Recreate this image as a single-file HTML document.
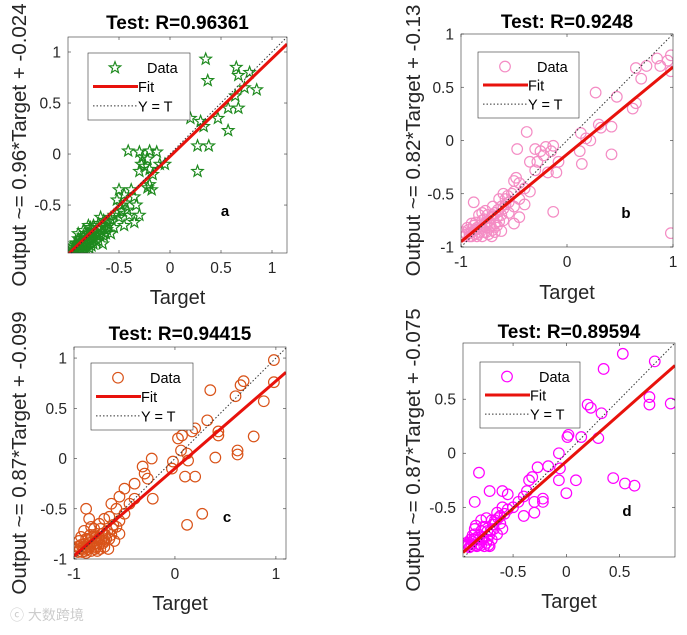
<!DOCTYPE html>
<html><head><meta charset="utf-8"><style>
body{margin:0;background:#fff;width:687px;height:630px;overflow:hidden;font-family:"Liberation Sans",Arial,sans-serif}
svg text{font-family:"Liberation Sans",Arial,sans-serif}
</style></head><body>
<svg id="fig" width="687" height="630" viewBox="0 0 687 630">
<text x="10" y="620" font-size="14" fill="#ccc" font-family="'Liberation Sans','Noto Sans CJK SC',sans-serif">ⓒ 大数跨境</text>
</svg>
<script>
// ---- data ----
const titles=["Test: R=0.96361","Test: R=0.9248","Test: R=0.94415","Test: R=0.89594"];
const ylabels=["Output ~= 0.96*Target + -0.024","Output ~= 0.82*Target + -0.13","Output ~= 0.87*Target + -0.099","Output ~= 0.87*Target + -0.075"];
const panelLetters=["a","b","c","d"];
const fitSlope=[0.96,0.82,0.87,0.87];
const fitIntercept=[-0.024,-0.13,-0.099,-0.075];
const xTicksA=[-0.5,0,0.5,1], yTicksA=[-0.5,0,0.5,1];
const xTicksB=[-1,0,1], yTicksB=[-1,-0.5,0,0.5,1];
const xTicksC=[-1,0,1], yTicksC=[-1,-0.5,0,0.5,1];
const xTicksD=[-0.5,0,0.5], yTicksD=[-0.5,0,0.5];
const dataA=[[0.35,0.93],[0.37,0.72],[0.65,0.85],[0.67,0.77],[0.78,0.8],[0.73,0.65],[0.85,0.63],[0.64,0.57],[0.57,0.45],[0.67,0.45],[0.47,0.35],[0.3,0.32],[0.33,0.27],[0.57,0.23],[0.2,0.35],[0.27,0.08],[0.38,0.08],[0.27,-0.17],
[-0.41,0.03],[-0.3,0.02],[-0.2,0.03],[-0.13,0.02],[-0.27,-0.03],[-0.22,-0.05],[-0.28,-0.1],[-0.25,-0.12],[-0.2,-0.15],[-0.3,-0.17],[-0.05,-0.1],[-0.1,-0.1],[-0.17,-0.2],[-0.2,-0.3],[-0.18,-0.35],[-0.22,-0.33],
[-0.5,-0.35],[-0.45,-0.4],[-0.38,-0.35],[-0.35,-0.42],[-0.48,-0.5],[-0.42,-0.55],[-0.33,-0.5],[-0.3,-0.6],[-0.35,-0.67],[-0.5,-0.62],[-0.45,-0.7],[-0.55,-0.72],[-0.52,-0.58],[-0.4,-0.6],[-0.6,-0.7],[-0.65,-0.65],[-0.58,-0.78],[-0.7,-0.73],[-0.68,-0.62],[-0.75,-0.7],[-0.72,-0.8],[-0.78,-0.75],[-0.8,-0.82],[-0.85,-0.8],[-0.83,-0.88],[-0.88,-0.85],[-0.9,-0.9],[-0.93,-0.95],[-0.95,-0.92],[-0.87,-0.93],[-0.82,-0.9],[-0.78,-0.85],[-0.75,-0.88],[-0.9,-0.83],[-0.85,-0.75],[-0.7,-0.85],[-0.65,-0.8],[-0.8,-0.7],[-0.92,-0.87],[-0.88,-0.95],[-0.84,-0.84],[-0.76,-0.79],[-0.73,-0.76],[-0.62,-0.74],[-0.66,-0.88],[-0.9,-0.78],[-0.95,-0.96],[-0.86,-0.9],[-0.81,-0.78],[-0.79,-0.92],
[-0.94,-0.9],[-0.92,-0.94],[-0.9,-0.96],[-0.86,-0.96],[-0.84,-0.92],[-0.82,-0.94],[-0.8,-0.88],[-0.77,-0.9],[-0.74,-0.84],[-0.72,-0.86],[-0.69,-0.8],[-0.67,-0.76],[-0.64,-0.7],[-0.61,-0.66],[-0.7,-0.68],[-0.78,-0.72],[-0.82,-0.86],[-0.86,-0.86],[-0.88,-0.9],[-0.91,-0.92],[-0.96,-0.94],[-0.93,-0.88],[-0.89,-0.88],[-0.85,-0.82],[-0.8,-0.78],[-0.76,-0.82],[-0.71,-0.78],[-0.68,-0.72],[-0.63,-0.78],[-0.58,-0.64],[-0.55,-0.6],[-0.47,-0.56],[-0.44,-0.48],[-0.52,-0.45]];
const dataB=[[0.98,0.8],[0.95,0.75],[0.98,0.65],[0.85,0.77],[0.75,0.7],[0.65,0.68],[0.7,0.58],[0.88,0.7],[0.27,0.45],[0.47,0.41],[0.65,0.35],[0.62,0.3],[0.3,0.15],[0.32,0.12],[0.42,0.13],[0.13,0.07],[0.18,0.02],[0.22,0],[0.12,-0.1],[0.14,-0.22],[0.42,-0.13],[0.98,-0.87],[-0.1,-0.3],[-0.15,-0.1],[-0.2,-0.06],[-0.25,-0.1],[-0.3,-0.08],[-0.22,-0.14],[-0.28,-0.2],[-0.13,-0.05],[-0.08,-0.2],[-0.38,0.08],[-0.47,-0.08],[-0.35,-0.2],[-0.3,-0.28],[-0.18,-0.3],[-0.48,-0.35],[-0.45,-0.4],[-0.4,-0.45],[-0.5,-0.38],[-0.35,-0.48],[-0.45,-0.55],[-0.5,-0.62],[-0.4,-0.6],[-0.45,-0.72],[-0.5,-0.78],[-0.13,-0.67],[-0.6,-0.5],[-0.58,-0.6],[-0.64,-0.55],[-0.62,-0.7],[-0.55,-0.68],[-0.65,-0.65],[-0.7,-0.62],[-0.88,-0.58],[-0.72,-0.73],[-0.68,-0.78],[-0.75,-0.7],[-0.8,-0.75],[-0.78,-0.8],[-0.82,-0.8],[-0.85,-0.82],[-0.9,-0.78],[-0.88,-0.85],[-0.92,-0.87],[-0.95,-0.88],[-0.98,-0.86],[-0.9,-0.9],[-0.84,-0.88],[-0.76,-0.86],[-0.7,-0.84],[-0.66,-0.8],[-0.6,-0.75],[-0.8,-0.9],[-0.86,-0.77],[-0.73,-0.82],[-0.77,-0.66],[-0.83,-0.7],[-0.62,-0.85],[-0.94,-0.82],[-0.71,-0.9],
[-0.96,-0.9],[-0.93,-0.84],[-0.9,-0.86],[-0.87,-0.88],[-0.85,-0.9],[-0.82,-0.86],[-0.8,-0.82],[-0.78,-0.86],[-0.76,-0.78],[-0.74,-0.76],[-0.72,-0.8],[-0.7,-0.7],[-0.68,-0.68],[-0.66,-0.72],[-0.64,-0.76],[-0.62,-0.62],[-0.6,-0.64],[-0.58,-0.55],[-0.56,-0.52],[-0.55,-0.58],[-0.52,-0.5],[-0.5,-0.48],[-0.8,-0.68],[-0.86,-0.84],[-0.88,-0.8],[-0.92,-0.9],[-0.74,-0.88],[-0.68,-0.86],[-0.78,-0.74]];
const dataC=[[0.98,0.98],[0.98,0.76],[0.68,0.77],[0.65,0.73],[0.35,0.68],[0.6,0.62],[0.88,0.57],[0.32,0.38],[0.2,0.3],[0.17,0.27],[0.03,0.2],[0.07,0.23],[0.43,0.27],[0.43,0.23],[0.78,0.22],[0.06,0.08],[0.12,0.05],[0.13,-0.02],[0.4,0.01],[0.62,0.08],[0.62,0.04],[-0.02,-0.03],[-0.03,-0.1],[0.1,-0.18],[0.2,-0.18],[0.12,-0.66],[0.27,-0.55],[-0.23,0],[-0.32,-0.08],[-0.3,-0.15],[-0.27,-0.2],[-0.22,-0.4],[-0.4,-0.25],[-0.5,-0.3],[-0.55,-0.38],[-0.4,-0.4],[-0.45,-0.45],[-0.63,-0.45],[-0.58,-0.5],[-0.5,-0.55],[-0.65,-0.58],[-0.55,-0.62],[-0.88,-0.5],[-0.7,-0.6],[-0.75,-0.65],[-0.62,-0.7],[-0.55,-0.75],[-0.68,-0.8],[-0.8,-0.7],[-0.85,-0.6],[-0.78,-0.78],[-0.82,-0.83],[-0.88,-0.8],[-0.9,-0.85],[-0.95,-0.88],[-0.98,-0.9],[-0.92,-0.93],[-0.86,-0.9],[-0.8,-0.88],[-0.75,-0.85],[-0.7,-0.88],[-0.84,-0.76],[-0.9,-0.72],[-0.95,-0.82],[-0.77,-0.92],[-0.72,-0.75],[-0.66,-0.9],[-0.88,-0.94],[-0.83,-0.68],[-0.93,-0.78],[-0.79,-0.82],[-0.6,-0.82],[-0.74,-0.7],
[-0.96,-0.93],[-0.94,-0.9],[-0.91,-0.88],[-0.89,-0.92],[-0.87,-0.86],[-0.85,-0.88],[-0.83,-0.92],[-0.81,-0.86],[-0.79,-0.9],[-0.77,-0.84],[-0.76,-0.8],[-0.73,-0.82],[-0.71,-0.84],[-0.69,-0.76],[-0.67,-0.72],[-0.65,-0.8],[-0.63,-0.76],[-0.61,-0.66],[-0.58,-0.68],[-0.86,-0.8],[-0.84,-0.84],[-0.82,-0.78],[-0.8,-0.76],[-0.9,-0.9],[-0.93,-0.86],[-0.97,-0.88],[-0.88,-0.88],[-0.78,-0.88],[-0.74,-0.9],[-0.7,-0.82]];
const dataD=[[0.53,0.92],[0.83,0.85],[0.35,0.78],[0.78,0.52],[0.78,0.45],[0.98,0.46],[0.2,0.45],[0.23,0.42],[0.33,0.37],[0.3,0.14],[0.14,0.15],[0.02,0.17],[0.01,0.15],[-0.07,0],[-0.06,-0.14],[-0.17,-0.12],[-0.27,-0.13],[-0.07,-0.25],[0.09,-0.25],[0.0,-0.37],[0.44,-0.23],[0.55,-0.28],[0.64,-0.3],[-0.82,-0.18],[-0.72,-0.35],[-0.86,-0.45],[-0.6,-0.35],[-0.55,-0.38],[-0.35,-0.25],[-0.32,-0.22],[-0.4,-0.4],[-0.37,-0.35],[-0.3,-0.45],[-0.22,-0.42],[-0.22,-0.45],[-0.45,-0.45],[-0.5,-0.5],[-0.3,-0.55],[-0.4,-0.58],[-0.6,-0.5],[-0.65,-0.55],[-0.7,-0.62],[-0.75,-0.6],[-0.62,-0.65],[-0.68,-0.7],[-0.85,-0.67],[-0.8,-0.72],[-0.72,-0.75],[-0.78,-0.78],[-0.82,-0.8],[-0.88,-0.82],[-0.92,-0.85],[-0.95,-0.85],[-0.9,-0.8],[-0.85,-0.85],[-0.8,-0.85],[-0.75,-0.83],[-0.7,-0.8],[-0.65,-0.75],[-0.6,-0.7],[-0.86,-0.75],[-0.76,-0.68],[-0.73,-0.85],[-0.84,-0.78],[-0.93,-0.84],
[-0.96,-0.86],[-0.94,-0.83],[-0.91,-0.87],[-0.89,-0.84],[-0.87,-0.8],[-0.84,-0.86],[-0.82,-0.84],[-0.79,-0.8],[-0.77,-0.86],[-0.74,-0.8],[-0.72,-0.86],[-0.71,-0.72],[-0.69,-0.66],[-0.67,-0.62],[-0.64,-0.6],[-0.62,-0.58],[-0.58,-0.56],[-0.55,-0.52],[-0.8,-0.62],[-0.86,-0.7],[-0.78,-0.68],[-0.74,-0.72],[-0.9,-0.86],[-0.88,-0.76]];

const NS="http://www.w3.org/2000/svg";
const fig=document.getElementById('fig');
function mk(tag,attrs,parent){const e=document.createElementNS(NS,tag);for(const k in attrs)e.setAttribute(k,attrs[k]);(parent||fig).appendChild(e);return e;}
function starPts(cx,cy,R){const r=R*0.42;let p=[];for(let i=0;i<10;i++){const a=-Math.PI/2+i*Math.PI/5;const rr=i%2?r:R;p.push((cx+rr*Math.cos(a)).toFixed(1)+","+(cy+rr*Math.sin(a)).toFixed(1));}return p.join(" ");}

const panels=[
 {L:68,R:287,T:37,B:253,x0:-1.0,x1:1.147,y0:-0.97,y1:1.147,xt:xTicksA,yt:yTicksA,data:dataA,color:"#1e8a1e",marker:"star",leg:[88,53,102,67],lx:225,ly:216,titleY:22,xlY:304,yl:18},
 {L:461,R:673,T:34,B:247,x0:-1,x1:1,y0:-1,y1:1,xt:xTicksB,yt:yTicksB,data:dataB,color:"#f48cc4",marker:"circle",leg:[478,52,101,66],lx:626,ly:218,titleY:21,xlY:299,yl:412},
 {L:74,R:286,T:347,B:559,x0:-1,x1:1.1,y0:-1,y1:1.11,xt:xTicksC,yt:yTicksC,data:dataC,color:"#d95319",marker:"circle",leg:[91,363,102,67],lx:227,ly:522,titleY:333,xlY:610,yl:18},
 {L:463,R:675,T:343,B:557,x0:-0.97,x1:1.02,y0:-0.96,y1:1.02,xt:xTicksD,yt:yTicksD,data:dataD,color:"#ff00ff",marker:"circle",leg:[480,362,100,66],lx:627,ly:516,titleY:331,xlY:608,yl:412}
];

panels.forEach((p,i)=>{
 const g=mk('g',{});
 
 
 const sx=v=>p.L+(v-p.x0)/(p.x1-p.x0)*(p.R-p.L);
 const sy=v=>p.B-(v-p.y0)/(p.y1-p.y0)*(p.B-p.T);
 const clip='clip'+i;
 const cp=mk('clipPath',{id:clip},g);mk('rect',{x:p.L,y:p.T,width:p.R-p.L,height:p.B-p.T},cp);
 const bg=mk('rect',{x:p.L,y:p.T,width:p.R-p.L,height:p.B-p.T,fill:"#fff",stroke:"none"},g);
 
 
 const dg=mk('g',{'clip-path':'url(#'+clip+')'},g);
 
 
 p.data.forEach(d=>{
  let m;
  if(p.marker==='star') m=mk('polygon',{points:starPts(sx(d[0]),sy(d[1]),6),fill:"none",stroke:p.color,'stroke-width':1.2},dg);
  else m=mk('circle',{cx:sx(d[0]),cy:sy(d[1]),r:5.3,fill:"none",stroke:p.color,'stroke-width':1.2},dg);
  
  
 });
 const fl=mk('line',{x1:sx(p.x0),y1:sy(fitSlope[i]*p.x0+fitIntercept[i]),x2:sx(p.x1),y2:sy(fitSlope[i]*p.x1+fitIntercept[i]),stroke:"#e8120c",'stroke-width':3,'clip-path':'url(#'+clip+')'},g);
 
 
 const lo=Math.max(p.x0,p.y0),hi=Math.min(p.x1,p.y1);
 const yt=mk('line',{x1:sx(lo),y1:sy(lo),x2:sx(hi),y2:sy(hi),stroke:"#333",'stroke-width':1,'stroke-dasharray':'1.5,2'},g);
 
 
 const fr=mk('rect',{x:p.L,y:p.T,width:p.R-p.L,height:p.B-p.T,fill:"none",stroke:"#333",'stroke-width':0.6},g);
 
 
 p.xt.forEach(v=>{
  mk('line',{x1:sx(v),y1:p.B,x2:sx(v),y2:p.B-3,stroke:"#333",'stroke-width':0.6},g);
  mk('line',{x1:sx(v),y1:p.T,x2:sx(v),y2:p.T+3,stroke:"#333",'stroke-width':0.6},g);
  const t=mk('text',{x:sx(v),y:p.B+20,'font-size':15.5,'text-anchor':'middle',fill:"#262626"},g);t.textContent=String(v);
  
  
 });
 p.yt.forEach(v=>{
  mk('line',{x1:p.L,y1:sy(v),x2:p.L+3,y2:sy(v),stroke:"#333",'stroke-width':0.6},g);
  mk('line',{x1:p.R,y1:sy(v),x2:p.R-3,y2:sy(v),stroke:"#333",'stroke-width':0.6},g);
  const t=mk('text',{x:p.L-7,y:sy(v)+5.5,'font-size':15.5,'text-anchor':'end',fill:"#262626"},g);t.textContent=String(v);
  
  
 });
 const cx=(p.L+p.R)/2;
 const ti=mk('text',{x:cx,y:p.titleY+7,'font-size':19,'font-weight':'bold','text-anchor':'middle',fill:"#000"},g);ti.textContent=titles[i];
 
 
 const xl=mk('text',{x:cx,y:p.xlY,'font-size':20,'text-anchor':'middle',fill:"#262626"},g);xl.textContent="Target";
 
 
 const ycy=(p.T+p.B)/2;
 const yl=mk('text',{x:0,y:0,'font-size':20.5,'text-anchor':'middle',fill:"#262626",transform:`translate(${p.yl+8},${ycy}) rotate(-90)`},g);yl.textContent=ylabels[i];
 
 
 const pl=mk('text',{x:p.lx,y:p.ly,'font-size':15,'font-weight':'bold','text-anchor':'middle',fill:"#000"},g);pl.textContent=panelLetters[i];
 
 
 const [lx,ly,lw,lh]=p.leg;
 const lg=mk('g',{},g);
 
 
 mk('rect',{x:lx,y:ly,width:lw,height:lh,fill:"#fff",stroke:"#333",'stroke-width':0.6},lg);
 const r1=ly+lh*0.22,r2=ly+lh*0.5,r3=ly+lh*0.79;
 if(p.marker==='star') mk('polygon',{points:starPts(lx+27,r1,6),fill:"none",stroke:p.color,'stroke-width':1.2},lg);
 else mk('circle',{cx:lx+27,cy:r1,r:5.3,fill:"none",stroke:p.color,'stroke-width':1.2},lg);
 mk('line',{x1:lx+5,y1:r2,x2:lx+50,y2:r2,stroke:"#e8120c",'stroke-width':3},lg);
 mk('line',{x1:lx+5,y1:r3,x2:lx+50,y2:r3,stroke:"#333",'stroke-width':1,'stroke-dasharray':'1.5,2'},lg);
 [["Data",r1,lx+59],["Fit",r2,lx+50],["Y = T",r3,lx+50]].forEach(a=>{
  const t=mk('text',{x:a[2],y:a[1]+5.5,'font-size':14.5,fill:"#000"},lg);t.textContent=a[0];
  
  
 });
});
</script>
</body></html>
